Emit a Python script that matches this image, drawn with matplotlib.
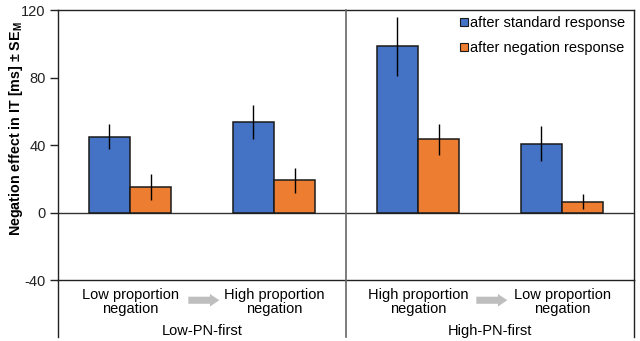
import numpy as np
import matplotlib
matplotlib.use("Agg")
import matplotlib.pyplot as plt
from matplotlib.lines import Line2D
from matplotlib.patches import FancyArrow

plt.rcParams["font.family"] = ["Liberation Sans", "DejaVu Sans"]
plt.rcParams["axes.unicode_minus"] = False

# Negation effect per block (ms) with standard errors
conditions = ["Low proportion\nnegation", "High proportion\nnegation",
              "High proportion\nnegation", "Low proportion\nnegation"]
groups = ["Low-PN-first", "High-PN-first"]
after_standard = [45, 53.5, 98.5, 40.7]
after_standard_se = [7.2, 10.2, 17.5, 10.3]
after_negation = [15, 19.2, 43.5, 6.3]
after_negation_se = [7.6, 7.4, 9.2, 4.4]
series_labels = ["after standard response", "after negation response"]

BLUE = "#4472C4"
ORANGE = "#ED7D31"
EDGE = "#1a1a1a"

fig = plt.figure(figsize=(6.4, 3.41), dpi=100)
ax = fig.add_axes([58 / 640, 1 - 280 / 341, 576 / 640, 270 / 341])

x = np.arange(len(conditions)) + 0.5
w = 0.285
err_kw = dict(ecolor="black", elinewidth=1.0, capsize=0)
ax.bar(x - w / 2, after_standard, w, yerr=after_standard_se, color=BLUE,
       edgecolor=EDGE, linewidth=1.1, error_kw=err_kw, zorder=3)
ax.bar(x + w / 2, after_negation, w, yerr=after_negation_se, color=ORANGE,
       edgecolor=EDGE, linewidth=1.1, error_kw=err_kw, zorder=3)

ax.set_xlim(0, 4)
ax.set_ylim(-40, 120)
ax.set_yticks([-40, 0, 40, 80, 120])
ax.set_xticks([])
ax.tick_params(axis="y", direction="out", length=6, width=1, pad=3,
               labelsize=10.5, colors="#222222")
ax.set_ylabel("Negation effect in IT [ms] ± SE$_\\mathregular{M}$",
              fontsize=10.3, fontweight="bold")
ax.yaxis.set_label_coords(-0.058, 0.56)

for side in ["left", "right", "top", "bottom"]:
    ax.spines[side].set_color("#222222")
    ax.spines[side].set_linewidth(1.0)

ax.axhline(0, color="#333333", lw=1.0, zorder=2)

# frame lines continue down through the category area
y_low = -73.5
ax.plot([0, 0], [-40, y_low], color="#222222", lw=1.0, clip_on=False)
ax.plot([4, 4], [-40, y_low], color="#222222", lw=1.0, clip_on=False)
ax.plot([2, 2], [120, y_low], color="#666666", lw=1.2, clip_on=False, zorder=4)

# category labels, arrows and group names
for xi, lab in zip(x, conditions):
    ax.text(xi, -53, lab, ha="center", va="center", fontsize=10.5,
            linespacing=1.0, clip_on=False)
for xs in [0.905, 2.905]:
    ax.add_patch(FancyArrow(xs, -52, 0.215, 0, width=4.2, head_width=7.5,
                            head_length=0.065, length_includes_head=True,
                            color="#BEBEBE", lw=0, clip_on=False))
for xi, g in zip([1, 3], groups):
    ax.text(xi, -70, g, ha="center", va="center", fontsize=10.5, clip_on=False)

handles = [Line2D([], [], marker="s", ls="none", markersize=6,
                  markerfacecolor=c, markeredgecolor=EDGE, markeredgewidth=0.8)
           for c in [BLUE, ORANGE]]
ax.legend(handles, series_labels, loc="upper right", frameon=False,
          fontsize=10.5, handlelength=0.6, handletextpad=0.15,
          labelspacing=0.75, borderaxespad=0.2, bbox_to_anchor=(1.0, 1.01))

fig.savefig("out.png", dpi=100)
